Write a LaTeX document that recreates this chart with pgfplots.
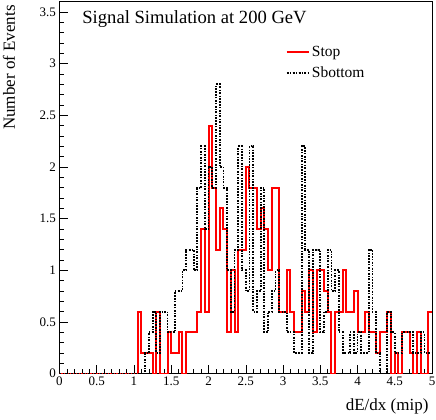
\documentclass[border=0pt]{standalone}
\usepackage{fontspec}
\setmainfont{Liberation Serif}
\usepackage{pgfplots}
\usepackage{pgfplotstable}
\pgfplotsset{compat=1.18}

% bin low edge, Stop, Sbottom (last row closes the last bin)
\pgfplotstableread{
x     stop  sbottom
0.00  0     0
0.05  0     0
0.10  0     0
0.15  0     0
0.20  0     0
0.25  0     0
0.30  0     0
0.35  0     0
0.40  0     0
0.45  0     0
0.50  0     0
0.55  0     0
0.60  0     0
0.65  0     0
0.70  0     0
0.75  0     0
0.80  0     0
0.85  0     0
0.90  0     0
0.95  0     0
1.00  0     0
1.05  0.6   0
1.10  0.2   0
1.15  0.2   0.2
1.20  0.2   0.4
1.25  0     0.6
1.30  0.6   0.2
1.35  0     0.6
1.40  0     0.6
1.45  0.4   0.4
1.50  0.2   0.4
1.55  0.2   0.8
1.60  0.4   0.8
1.65  0     1.0
1.70  0.4   1.2
1.75  0.4   1.2
1.80  0.4   1.0
1.85  0.6   1.8
1.90  1.4   2.2
1.95  0.6   1.4
2.00  2.4   2.0
2.05  1.8   1.8
2.10  1.2   2.8
2.15  1.6   2.0
2.20  1.4   1.8
2.25  0.4   1.0
2.30  1.0   0.6
2.35  0.4   1.2
2.40  1.2   2.2
2.45  1.2   1.0
2.50  2.0   0.8
2.55  1.8   2.2
2.60  1.8   0.6
2.65  1.4   0.8
2.70  1.6   1.8
2.75  1.4   0.4
2.80  1.0   0.6
2.85  1.8   0.8
2.90  1.8   1.0
2.95  0.6   0.6
3.00  0.6   0.6
3.05  1.0   0.4
3.10  0.6   0.4
3.15  0.4   0.2
3.20  0.4   0.2
3.25  0.8   2.2
3.30  0.6   1.2
3.35  1.0   0.2
3.40  0.4   1.2
3.45  1.0   1.2
3.50  1.0   0.4
3.55  0.8   0.6
3.60  0.6   1.2
3.65  0     0.8
3.70  0.6   1.0
3.75  0.6   0.4
3.80  1.0   0.2
3.85  0.6   0.2
3.90  0.6   0.4
3.95  0.8   0.2
4.00  0.4   0.4
4.05  0.4   0.2
4.10  0.6   0.2
4.15  0.4   1.2
4.20  0.4   0.6
4.25  0.2   0.2
4.30  0.4   0
4.35  0.4   0
4.40  0.6   0.6
4.45  0     0.4
4.50  0.2   0.2
4.55  0     0.2
4.60  0.4   0.4
4.65  0.4   0.4
4.70  0.2   0.4
4.75  0     0.2
4.80  0.4   0.2
4.85  0     0.4
4.90  0     0.2
4.95  0.6   0.2
5.00  0.6   0.2
}\hist

\begin{document}
\begin{tikzpicture}
\useasboundingbox (-59.5pt,-45.4pt) rectangle (376.5pt,373.7pt);
\begin{axis}[
  scale only axis,
  width=372.5pt, height=372pt,
  xmin=0, xmax=5, ymin=0, ymax=3.6,
  xtick={0,0.5,...,5}, ytick={0,0.5,...,3.5},
  minor x tick num=4, minor y tick num=4,
  tick pos=left, tick align=inside,
  major tick length=9pt, minor tick length=4.5pt,
  axis line style={line width=0.8pt},
  every tick/.style={black, line width=0.5pt},
  /pgf/number format/assume math mode=true,
  tick label style={font=\fontsize{13}{13}\selectfont},
  xlabel={dE/dx (mip)},
  xlabel style={at={(axis description cs:1,-0.098)}, anchor=base east,
    font=\fontsize{17}{17}\selectfont},
  ylabel={Number of Events},
  ylabel style={at={(axis description cs:-0.1195,1)}, anchor=base east,
    font=\fontsize{17}{17}\selectfont},
  legend style={at={(axis description cs:0.602,0.892)}, anchor=north west,
    draw=none, fill=none, font=\fontsize{15.5}{15.5}\selectfont,
    row sep=5pt, inner sep=2pt},
  legend cell align=left,
  legend image code/.code={\draw[#1] (0pt,0pt) -- (15pt,0pt);
    \path (0pt,0pt) -- (22pt,0pt);},
]
\addplot[const plot mark left, red, line width=2pt] table[x=x, y=stop] {\hist};
\addplot[const plot mark left, black, line width=1.8pt,
  dash pattern=on 2pt off 1.3pt on 1.2pt off 1.3pt] table[x=x, y=sbottom] {\hist};
\legend{Stop, Sbottom}
\node[anchor=base west, font=\fontsize{18.6}{18.6}\selectfont]
  at (axis description cs:0.052,0.9425) {Signal Simulation at 200 GeV};
\end{axis}
\end{tikzpicture}
\end{document}
